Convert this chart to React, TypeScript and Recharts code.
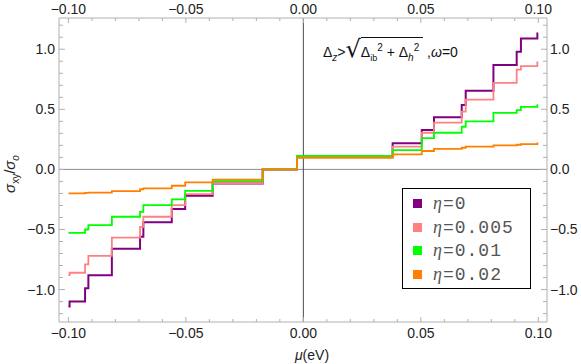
import { LineChart, Line, XAxis, YAxis, ReferenceLine } from "recharts";

// chemical potential breakpoints (eV); each value holds until the next breakpoint
const mu = [
  -0.1, -0.0995, -0.0929, -0.0915, -0.0815, -0.0695, -0.0681, -0.056, -0.0503, -0.0386, -0.0173,
  -0.0027, 0.038, 0.0504, 0.0556, 0.0674, 0.0691, 0.0809, 0.0908, 0.0926, 0.0996, 0.1,
];

// sigma_xy / sigma_o for each broadening eta
const eta0 = [
  -1.14, -1.1, -0.99, -0.88, -0.66, -0.56, -0.44, -0.33, -0.22, -0.117, 0, 0.108, 0.217, 0.328,
  0.433, 0.536, 0.655, 0.869, 0.98, 1.09, 1.13, 1.13,
];
const eta005 = [
  -0.88, -0.86, -0.79, -0.72, -0.567, -0.478, -0.394, -0.297, -0.206, -0.117, 0, 0.108, 0.19, 0.305,
  0.39, 0.48, 0.58, 0.72, 0.83, 0.86, 0.89, 0.89,
];
const eta01 = [
  -0.528, -0.528, -0.5, -0.464, -0.394, -0.353, -0.297, -0.25, -0.178, -0.097, 0, 0.113, 0.16, 0.26,
  0.305, 0.355, 0.4, 0.47, 0.494, 0.52, 0.535, 0.535,
];
const eta02 = [
  -0.2, -0.2, -0.195, -0.193, -0.18, -0.165, -0.158, -0.136, -0.108, -0.085, 0, 0.097, 0.125, 0.153,
  0.17, 0.18, 0.19, 0.2, 0.205, 0.21, 0.217, 0.217,
];

const seriesKeys = ["eta0", "eta005", "eta01", "eta02"];
const seriesLabels = ["0", "0.005", "0.01", "0.02"];
const seriesColors = ["#800080", "#ff8080", "#00ff00", "#ff8000"];

const xTicks = [
  -0.1, -0.09, -0.08, -0.07, -0.06, -0.05, -0.04, -0.03, -0.02, -0.01, 0, 0.01, 0.02, 0.03, 0.04,
  0.05, 0.06, 0.07, 0.08, 0.09, 0.1,
];
const yTicks = [
  -1.2, -1.1, -1.0, -0.9, -0.8, -0.7, -0.6, -0.5, -0.4, -0.3, -0.2, -0.1, 0, 0.1, 0.2, 0.3, 0.4, 0.5,
  0.6, 0.7, 0.8, 0.9, 1.0, 1.1, 1.2,
];

const rows = mu.map((m, i) => ({
  mu: m,
  eta0: eta0[i],
  eta005: eta005[i],
  eta01: eta01[i],
  eta02: eta02[i],
}));

const FONT = "'Liberation Sans', Arial, sans-serif";
const FRAME = "#b0b0b0";
const X_DOMAIN: [number, number] = [-0.104, 0.1037];
const Y_DOMAIN: [number, number] = [-1.27, 1.26];

function isMajor(v: number, step: number) {
  const r = v / step;
  return Math.abs(r - Math.round(r)) < 1e-6;
}

function fmt(v: number, digits: number) {
  const s = Math.abs(v).toFixed(digits);
  return v < -1e-9 ? "\u2212" + s : s;
}

// frame ticks point inward, like a Mathematica frame; labels only on major ticks
function FrameTick(props: any) {
  const { x, y, payload, side } = props;
  const v = payload.value;
  const horiz = side === "top" || side === "bottom";
  const major = isMajor(v, horiz ? 0.05 : 0.5);
  const len = major ? 5 : 3;
  const label = major ? fmt(v, horiz ? 2 : 1) : null;
  const txt = { fontFamily: FONT, fontSize: 14, fill: "#222" };
  if (side === "bottom")
    return (
      <g>
        <line x1={x} x2={x} y1={y} y2={y - len} stroke={FRAME} />
        {label && <text x={x} y={y + 15.5} textAnchor="middle" {...txt}>{label}</text>}
      </g>
    );
  if (side === "top")
    return (
      <g>
        <line x1={x} x2={x} y1={y} y2={y + len} stroke={FRAME} />
        {label && <text x={x} y={y - 4} textAnchor="middle" {...txt}>{label}</text>}
      </g>
    );
  if (side === "left")
    return (
      <g>
        <line x1={x} x2={x + len + 1} y1={y} y2={y} stroke={FRAME} />
        {label && <text x={x - 4} y={y + 5} textAnchor="end" {...txt}>{label}</text>}
      </g>
    );
  return (
    <g>
      <line x1={x} x2={x - len - 1} y1={y} y2={y} stroke={FRAME} />
      {label && <text x={x + 3} y={y + 5} textAnchor="start" {...txt}>{label}</text>}
    </g>
  );
}

function LegendBox() {
  return (
    <div
      style={{
        position: "absolute",
        left: 402,
        top: 188,
        border: "1px solid #000",
        background: "#fff",
        boxSizing: "border-box",
        width: 129,
        height: 101,
        paddingTop: 3,
        paddingLeft: 10,
      }}
    >
      {seriesLabels.map((lab, i) => (
        <div key={lab} style={{ height: 23.5, display: "flex", alignItems: "center" }}>
          <span style={{ width: 9, height: 9, background: seriesColors[i], marginRight: 11 }} />
          <span
            style={{
              fontFamily: "'Liberation Mono', monospace",
              fontSize: 18,
              color: "#555",
              letterSpacing: 1,
            }}
          >
            <span style={{ fontFamily: "'Liberation Serif', serif", fontStyle: "italic" }}>η</span>={lab}
          </span>
        </div>
      ))}
    </div>
  );
}

export default function App() {
  return (
    <div style={{ position: "absolute", left: 0, top: 0, width: 581, height: 364, background: "#fff" }}>
      <LineChart width={581} height={364} data={rows} margin={{ top: 0, right: 0, bottom: 0, left: 0 }}>
        <XAxis
          xAxisId="x"
          dataKey="mu"
          type="number"
          orientation="bottom"
          domain={X_DOMAIN}
          allowDataOverflow
          ticks={xTicks}
          interval={0}
          height={42}
          tickSize={0}
          tickMargin={0}
          tickLine={false}
          axisLine={{ stroke: FRAME }}
          tick={(p: any) => <FrameTick {...p} side="bottom" />}
        />
        <XAxis
          xAxisId="xt"
          dataKey="mu"
          type="number"
          orientation="top"
          domain={X_DOMAIN}
          allowDataOverflow
          ticks={xTicks}
          interval={0}
          height={18}
          tickSize={0}
          tickMargin={0}
          tickLine={false}
          axisLine={{ stroke: FRAME }}
          tick={(p: any) => <FrameTick {...p} side="top" />}
        />
        <YAxis
          yAxisId="y"
          type="number"
          orientation="left"
          domain={Y_DOMAIN}
          allowDataOverflow
          ticks={yTicks}
          interval={0}
          width={59}
          tickSize={0}
          tickMargin={0}
          tickLine={false}
          axisLine={{ stroke: FRAME }}
          tick={(p: any) => <FrameTick {...p} side="left" />}
        />
        <YAxis
          yAxisId="yr"
          type="number"
          orientation="right"
          domain={Y_DOMAIN}
          allowDataOverflow
          ticks={yTicks}
          interval={0}
          width={34}
          tickSize={0}
          tickMargin={0}
          tickLine={false}
          axisLine={{ stroke: FRAME }}
          tick={(p: any) => <FrameTick {...p} side="right" />}
        />
        <ReferenceLine xAxisId="x" yAxisId="y" y={0} stroke="#8a8a8a" strokeWidth={1} />
        <ReferenceLine xAxisId="x" yAxisId="y" x={0} stroke="#4a4a4a" strokeWidth={1} />
        {seriesKeys.map((k, i) => (
          <Line
            key={k}
            xAxisId="x"
            yAxisId="y"
            dataKey={k}
            type="stepAfter"
            stroke={seriesColors[i]}
            strokeWidth={i === 0 ? 2 : 1.8}
            dot={false}
            isAnimationActive={false}
          />
        ))}
      </LineChart>

      <LegendBox />

      {/* annotation */}
      <div
        style={{
          position: "absolute",
          left: 323,
          top: 42,
          fontFamily: FONT,
          fontSize: 14,
          lineHeight: "20px",
          whiteSpace: "nowrap",
          color: "#111",
        }}
      >
        Δ<sub style={{ fontStyle: "italic", fontSize: 10, lineHeight: 0 }}>z</sub>&gt;
        <span style={{ fontSize: 24, lineHeight: 0, fontFamily: "'DejaVu Sans', sans-serif" }}>√</span>
        <span style={{ borderTop: "1px solid #111", paddingTop: 6, paddingRight: 4 }}>
          Δ<sub style={{ fontSize: 9, lineHeight: 0 }}>ib</sub>
          <sup style={{ fontSize: 10, lineHeight: 0 }}>2</sup> + Δ
          <sub style={{ fontSize: 10, lineHeight: 0, fontStyle: "italic" }}>h</sub>
          <sup style={{ fontSize: 10, lineHeight: 0 }}>2</sup>
        </span>{" "}
        ,<i>ω</i>=0
      </div>

      {/* y label */}
      <div
        style={{
          position: "absolute",
          left: 9,
          top: 174,
          transform: "translate(-50%, -50%) rotate(-90deg)",
          fontFamily: FONT,
          fontSize: 15,
          whiteSpace: "nowrap",
          color: "#222",
        }}
      >
        <i>σ</i>
        <sub style={{ fontSize: 10, lineHeight: 0 }}>xy</sub>/<i>σ</i>
        <sub style={{ fontSize: 10, lineHeight: 0, fontStyle: "italic" }}>o</sub>
      </div>

      {/* x label */}
      <div
        style={{
          position: "absolute",
          left: 312,
          top: 355,
          transform: "translate(-50%, -50%)",
          fontFamily: FONT,
          fontSize: 14,
          whiteSpace: "nowrap",
          color: "#222",
        }}
      >
        <i>μ</i>(eV)
      </div>
    </div>
  );
}
